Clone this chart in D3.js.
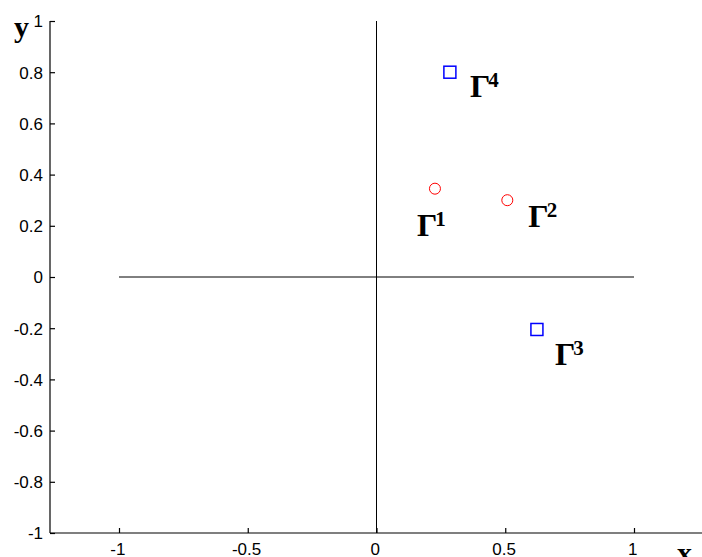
<!DOCTYPE html>
<html><head><meta charset="utf-8">
<script src="https://cdn.jsdelivr.net/npm/d3@7"></script>
<style>body{margin:0;background:#fff;overflow:hidden}svg{display:block}</style>
</head><body>
<script>
const xTicks = [-1, -0.5, 0, 0.5, 1];
const xTickLabels = ["-1", "-0.5", "0", "0.5", "1"];
const yTicks = [-1, -0.8, -0.6, -0.4, -0.2, 0, 0.2, 0.4, 0.6, 0.8, 1];
const yTickLabels = ["-1", "-0.8", "-0.6", "-0.4", "-0.2", "0", "0.2", "0.4", "0.6", "0.8", "1"];
const circleNames = ["1", "2"];
const circleX = [0.227, 0.508];
const circleY = [0.345, 0.30];
const squareNames = ["4", "3"];
const squareX = [0.285, 0.623];
const squareY = [0.80, -0.205];

const W = 702, H = 557;
const svg = d3.select("body").append("svg").attr("width", W).attr("height", H);
const x = d3.scaleLinear().domain([-1, 1]).range([119, 634]);
const y = d3.scaleLinear().domain([-1, 1]).range([533, 21]);
const x0 = 50, xEnd = 702;

// reference lines
svg.append("line").attr("x1", x(-1)).attr("x2", x(1)).attr("y1", y(0)).attr("y2", y(0)).attr("stroke", "#000").attr("stroke-width", 1);
svg.append("line").attr("x1", x(0)).attr("x2", x(0)).attr("y1", y(-1)).attr("y2", y(1)).attr("stroke", "#000").attr("stroke-width", 1);

// axes
const xAxis = d3.axisBottom(x).tickValues(xTicks).tickFormat((d, i) => xTickLabels[i]).tickSize(-5).tickPadding(10).tickSizeOuter(0);
const gx = svg.append("g").attr("transform", `translate(0,${y(-1)})`).call(xAxis);
gx.select(".domain").attr("d", `M${x0},0H${xEnd}`);
const yAxis = d3.axisLeft(y).tickValues(yTicks).tickFormat((d, i) => yTickLabels[i]).tickSize(-5).tickPadding(7).tickSizeOuter(0);
const gy = svg.append("g").attr("transform", `translate(${x0},0)`).call(yAxis);
gy.select(".domain").attr("d", `M0,${y(-1)}V${y(1)}`);
svg.selectAll(".tick text").attr("font-family", "Liberation Sans, Arial, sans-serif").attr("font-size", 17).attr("fill", "#000");
svg.selectAll(".tick line, .domain").attr("stroke", "#000").attr("stroke-width", 1.2);
gy.selectAll(".tick text").attr("dy", "0.35em");
gx.selectAll(".tick text").attr("dx", "-0.1em");

// axis labels
svg.append("text").attr("x", 14).attr("y", 37).text("y").attr("font-family", "Liberation Serif, Times New Roman, serif").attr("font-weight", "bold").attr("font-size", 30);
svg.append("text").attr("x", 677).attr("y", 563).text("x").attr("font-family", "Liberation Serif, Times New Roman, serif").attr("font-weight", "bold").attr("font-size", 30);

// markers
svg.selectAll("circle.pt").data(circleX).enter().append("circle")
  .attr("cx", (d) => x(d)).attr("cy", (d, i) => y(circleY[i])).attr("r", 5.5)
  .attr("fill", "none").attr("stroke", "#ff0000").attr("stroke-width", 1);
svg.selectAll("rect.pt").data(squareX).enter().append("rect")
  .attr("x", (d) => x(d) - 6).attr("y", (d, i) => y(squareY[i]) - 6).attr("width", 12).attr("height", 12)
  .attr("fill", "none").attr("stroke", "#0000ff").attr("stroke-width", 1.5);

// labels
function gammaLabel(px, py, sup) {
  const t = svg.append("text").attr("x", px).attr("y", py)
    .attr("font-family", "Liberation Serif, Times New Roman, serif").attr("font-weight", "bold").attr("font-size", 32).attr("fill", "#000");
  t.append("tspan").text("Γ");
  t.append("tspan").text(sup).attr("font-size", 21).attr("dy", -10).attr("dx", -2);
}
const circleLabelOff = [[-18, 47], [21, 27]];
circleX.forEach((d, i) => gammaLabel(x(d) + circleLabelOff[i][0], y(circleY[i]) + circleLabelOff[i][1], circleNames[i]));
const squareLabelOff = [[20, 25], [18, 36]];
squareX.forEach((d, i) => gammaLabel(x(d) + squareLabelOff[i][0], y(squareY[i]) + squareLabelOff[i][1], squareNames[i]));
</script>
</body></html>
